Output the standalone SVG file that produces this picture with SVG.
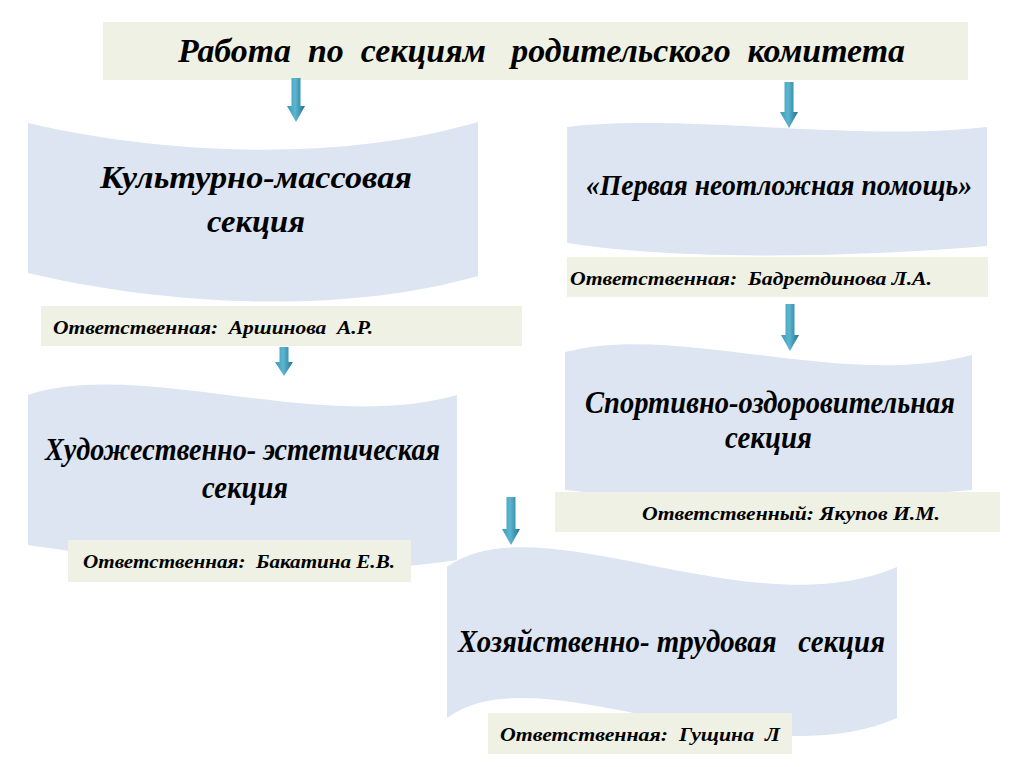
<svg xmlns="http://www.w3.org/2000/svg" width="1024" height="767" viewBox="0 0 1024 767">
<defs>
<linearGradient id="arrowGrad" x1="0" y1="0" x2="1" y2="0">
<stop offset="0" stop-color="#3d98b8"/>
<stop offset="0.45" stop-color="#5cb6d0"/>
<stop offset="1" stop-color="#23728f"/>
</linearGradient>
<style>
.wave{fill:#dce5f1;}
.box{fill:#eef1e3;}
.t{font-family:"Liberation Serif","DejaVu Serif",serif;font-style:italic;font-weight:bold;fill:#000;white-space:pre;}
.big{font-size:32px;}
.mid{font-size:30px;}
.ttl{font-size:33px;}
.lab{font-size:19px;}
.arrow{fill:url(#arrowGrad);}
</style>
</defs>
<rect width="1024" height="767" fill="#ffffff"/>

<g id="title">
<rect class="box" x="103" y="22" width="865" height="58"/>
<text class="t ttl" x="178" y="62" textLength="727" lengthAdjust="spacingAndGlyphs">Работа  по  секциям   родительского  комитета</text>
</g>

<g id="node-kultur">
<path class="wave" d="M28,123 C150,152 330,165 478,122 L478,276 C330,318 150,302 28,273 Z"/>
<text class="t big" x="100" y="188" textLength="312" lengthAdjust="spacingAndGlyphs">Культурно-массовая</text>
<text class="t big" x="207" y="232" textLength="98" lengthAdjust="spacingAndGlyphs">секция</text>
</g>
<g id="label-arshinova">
<rect class="box" x="41" y="306" width="481" height="40"/>
<text class="t lab" x="53" y="334" textLength="320" lengthAdjust="spacingAndGlyphs">Ответственная:  Аршинова  А.Р.</text>
</g>

<g id="node-pervaya">
<path class="wave" d="M567,127 C680,113 860,142 987,127 L987,246 C870,256 690,262 567,243 Z"/>
<text class="t mid" x="586" y="195" textLength="386" lengthAdjust="spacingAndGlyphs">«Первая неотложная помощь»</text>
</g>
<g id="label-badretdinova">
<rect class="box" x="567" y="257" width="421" height="40"/>
<text class="t lab" x="570" y="285" textLength="362" lengthAdjust="spacingAndGlyphs">Ответственная:  Бадретдинова Л.А.</text>
</g>

<g id="node-hudozh">
<path class="wave" d="M28,395 C140,358 320,434 457,395 L457,560 C330,580 160,565 28,545 Z"/>
<text class="t big" x="45" y="460" textLength="395" lengthAdjust="spacingAndGlyphs">Художественно- эстетическая</text>
<text class="t big" x="202" y="498" textLength="86" lengthAdjust="spacingAndGlyphs">секция</text>
</g>
<g id="label-bakatina">
<rect class="box" x="68" y="540" width="343" height="42"/>
<text class="t lab" x="83" y="568" textLength="312" lengthAdjust="spacingAndGlyphs">Ответственная:  Бакатина Е.В.</text>
</g>

<g id="node-sport">
<path class="wave" d="M565,352 C680,322 840,390 972,355 L972,490 C850,500 700,505 565,490 Z"/>
<text class="t big" x="585" y="413" textLength="370" lengthAdjust="spacingAndGlyphs">Спортивно-оздоровительная</text>
<text class="t big" x="725" y="448" textLength="87" lengthAdjust="spacingAndGlyphs">секция</text>
</g>
<g id="label-yakupov">
<rect class="box" x="555" y="492" width="445" height="40"/>
<text class="t lab" x="642" y="520" textLength="298" lengthAdjust="spacingAndGlyphs">Ответственный: Якупов И.М.</text>
</g>

<g id="node-hozyay">
<path class="wave" d="M447,567 C540,500 750,630 897,567 L897,718 C750,782 540,650 447,718 Z"/>
<text class="t big" x="458" y="652" textLength="427" lengthAdjust="spacingAndGlyphs">Хозяйственно- трудовая   секция</text>
</g>
<g id="label-gushchina">
<rect class="box" x="488" y="713" width="304" height="41"/>
<text class="t lab" x="500" y="741" textLength="280" lengthAdjust="spacingAndGlyphs">Ответственная:  Гущина  Л</text>
</g>

<g id="connectors">
<path class="arrow" d="M291.5,78 H300.5 V106 H305 L296,122 L287,106 H291.5 Z"/>
<path class="arrow" d="M784.5,82 H793.5 V112 H798 L789,128 L780,112 H784.5 Z"/>
<path class="arrow" d="M279.5,347 H288.5 V362 H293 L284,376 L275,362 H279.5 Z"/>
<path class="arrow" d="M785.5,304 H794.5 V335 H799 L790,351 L781,335 H785.5 Z"/>
<path class="arrow" d="M506.5,497 H515.5 V529 H520 L511,545 L502,529 H506.5 Z"/>
</g>
</svg>
